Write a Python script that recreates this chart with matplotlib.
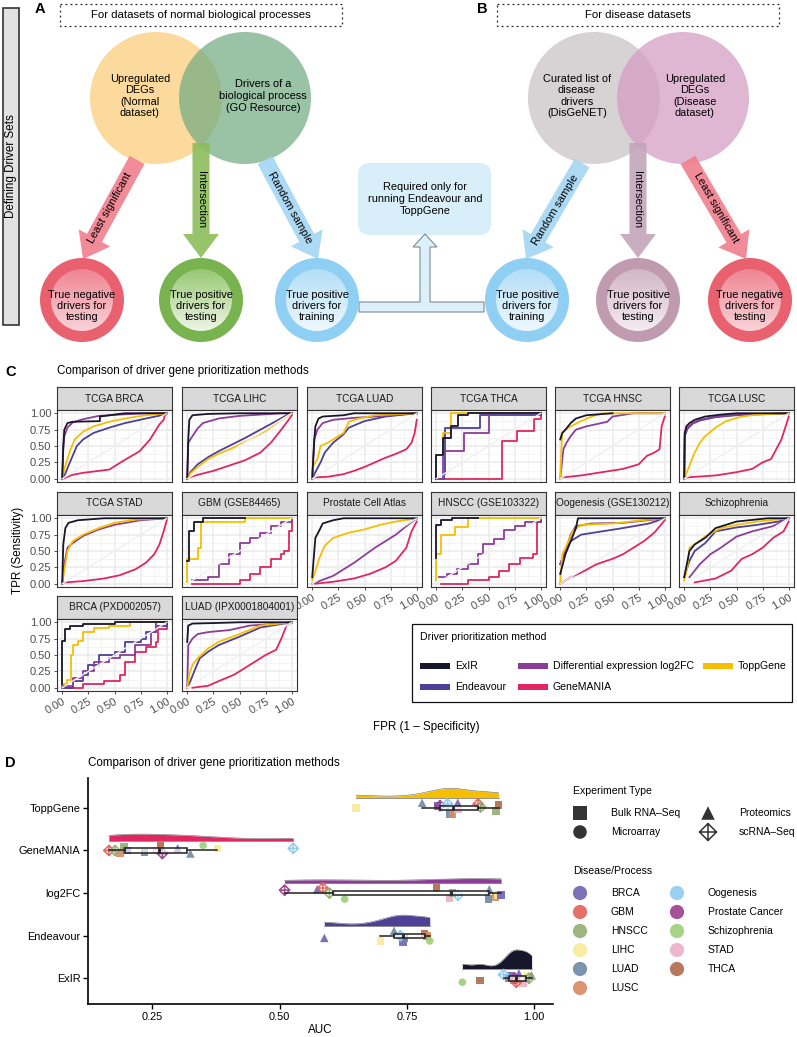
import numpy as np
import matplotlib.pyplot as plt
from matplotlib.patches import Circle, FancyArrow, FancyBboxPatch, Polygon, Rectangle
from matplotlib.colors import LinearSegmentedColormap
from matplotlib.path import Path

plt.rcParams['font.family'] = ['Liberation Sans', 'DejaVu Sans']
plt.rcParams['font.size'] = 8

# ---------------- data: panel C (ROC curves, fpr/tpr points)
facet_titles = ['TCGA BRCA', 'TCGA LIHC', 'TCGA LUAD', 'TCGA THCA', 'TCGA HNSC', 'TCGA LUSC',
                'TCGA STAD', 'GBM (GSE84465)', 'Prostate Cell Atlas', 'HNSCC (GSE103322)',
                'Oogenesis (GSE130212)', 'Schizophrenia',
                'BRCA (PXD002057)', 'LUAD (IPX0001804001)']
step_facets = ['TCGA THCA', 'GBM (GSE84465)', 'HNSCC (GSE103322)', 'BRCA (PXD002057)']

roc_tcga_brca = {
    'GeneMANIA': [(0.02, 0.01), (0.1, 0.06), (0.2, 0.09), (0.3, 0.11), (0.45, 0.14), (0.58, 0.27), (0.74, 0.42),
                  (0.84, 0.6), (0.93, 0.83), (0.97, 0.9), (0.98, 0.96), (1, 1)],
    'Endeavour': [(0, 0), (0.03, 0.08), (0.06, 0.2), (0.1, 0.35), (0.14, 0.5), (0.2, 0.6), (0.3, 0.7),
                  (0.45, 0.78), (0.6, 0.85), (0.8, 0.92), (0.95, 0.97), (1, 1)],
    'ToppGene': [(0, 0), (0.02, 0.15), (0.05, 0.3), (0.08, 0.45), (0.12, 0.6), (0.2, 0.72), (0.3, 0.8),
                 (0.45, 0.87), (0.6, 0.92), (0.8, 0.97), (1, 1)],
    'log2FC': [(0, 0), (0.01, 0.45), (0.02, 0.65), (0.05, 0.78), (0.1, 0.86), (0.2, 0.91), (0.35, 0.96),
               (0.55, 0.98), (0.8, 1.0), (1, 1)],
    'ExIR': [(0, 0), (0.01, 0.5), (0.02, 0.75), (0.05, 0.85), (0.1, 0.87), (0.36, 0.88), (0.36, 0.95),
             (0.5, 0.98), (0.6, 1.0), (1, 1)],
}
roc_tcga_lihc = {
    'GeneMANIA': [(0.02, 0.02), (0.1, 0.06), (0.25, 0.12), (0.4, 0.2), (0.55, 0.28), (0.7, 0.4), (0.8, 0.55),
                  (0.9, 0.75), (0.97, 0.9), (1, 0.97)],
    'Endeavour': [(0, 0), (0.03, 0.1), (0.1, 0.22), (0.2, 0.33), (0.3, 0.42), (0.4, 0.5), (0.55, 0.62),
                  (0.7, 0.75), (0.85, 0.88), (0.95, 0.97), (1, 1)],
    'ToppGene': [(0, 0), (0.03, 0.08), (0.1, 0.18), (0.2, 0.3), (0.3, 0.38), (0.45, 0.48), (0.6, 0.6),
                 (0.75, 0.73), (0.9, 0.9), (1, 1)],
    'log2FC': [(0, 0), (0.01, 0.55), (0.05, 0.65), (0.1, 0.77), (0.15, 0.85), (0.3, 0.92), (0.5, 0.96),
               (0.7, 0.98), (0.9, 1.0), (1, 1)],
    'ExIR': [(0, 0), (0.01, 0.6), (0.02, 0.9), (0.05, 0.97), (0.2, 0.99), (0.5, 1), (1, 1)],
}
roc_tcga_luad = {
    'GeneMANIA': [(0.02, 0.02), (0.15, 0.03), (0.3, 0.07), (0.4, 0.12), (0.5, 0.18), (0.6, 0.25), (0.7, 0.32),
                  (0.8, 0.38), (0.9, 0.45), (0.95, 0.55), (0.98, 0.7), (1, 0.9)],
    'Endeavour': [(0, 0), (0.03, 0.1), (0.08, 0.25), (0.12, 0.4), (0.2, 0.55), (0.3, 0.68), (0.35, 0.78),
                  (0.5, 0.88), (0.7, 0.95), (1, 1)],
    'ToppGene': [(0, 0), (0.01, 0.2), (0.05, 0.3), (0.08, 0.5), (0.15, 0.55), (0.2, 0.6), (0.3, 0.7),
                 (0.35, 0.87), (0.45, 0.92), (0.6, 0.97), (1, 1)],
    'log2FC': [(0, 0.05), (0.02, 0.6), (0.05, 0.75), (0.1, 0.85), (0.2, 0.9), (0.4, 0.93), (0.6, 0.95),
               (0.8, 0.98), (1, 1)],
    'ExIR': [(0, 0), (0.01, 0.3), (0.02, 0.6), (0.03, 0.8), (0.06, 0.92), (0.1, 0.95), (0.3, 0.97),
             (0.4, 1.0), (1, 1)],
}
roc_tcga_thca = {
    'GeneMANIA': [(0, 0), (0.63, 0.58), (0.77, 0.73), (0.935, 0.92), (1.0, 1.0), (1, 1)],
    'Endeavour': [(0, 0), (0.07, 0.07), (0.08, 0.78), (0.42, 0.97), (1, 1)],
    'log2FC': [(0, 0), (0.065, 0.42), (0.27, 0.7), (0.5, 1.0), (1, 1)],
    'ToppGene': [(0, 0), (0, 0.37), (0.065, 0.7), (0.145, 1.0), (1, 1)],
    'ExIR': [(0, 0), (0, 0.37), (0.065, 0.62), (0.14, 0.8), (0.21, 0.97), (0.3, 1.0), (1, 1)],
}
roc_tcga_hnsc = {
    'GeneMANIA': [(0.02, 0.02), (0.2, 0.05), (0.4, 0.1), (0.6, 0.15), (0.75, 0.22), (0.83, 0.35), (0.9, 0.4),
                  (0.95, 0.45), (0.97, 0.8), (1, 0.95)],
    'log2FC': [(0, 0), (0.03, 0.45), (0.06, 0.55), (0.1, 0.65), (0.15, 0.75), (0.25, 0.8), (0.45, 0.87),
               (0.5, 0.95), (0.7, 1.0), (1, 1)],
    'ToppGene': [(0, 0), (0.01, 0.4), (0.02, 0.7), (0.05, 0.75), (0.1, 0.8), (0.2, 0.88), (0.3, 0.95),
                 (0.4, 1.0), (1, 1)],
    'ExIR': [(0, 0.6), (0.02, 0.7), (0.05, 0.75), (0.1, 0.85), (0.15, 0.92), (0.25, 0.97), (0.5, 1.0)],
}
roc_tcga_lusc = {
    'GeneMANIA': [(0.02, 0.02), (0.3, 0.05), (0.5, 0.1), (0.65, 0.15), (0.75, 0.25), (0.83, 0.3), (0.88, 0.45),
                  (0.93, 0.6), (0.97, 0.8), (1, 0.95)],
    'Endeavour': [(0, 0), (0.005, 0.65), (0.03, 0.76), (0.08, 0.84), (0.15, 0.89), (0.3, 0.94), (0.5, 0.97),
                  (1, 1)],
    'ToppGene': [(0, 0), (0.05, 0.2), (0.1, 0.4), (0.15, 0.55), (0.2, 0.65), (0.3, 0.78), (0.4, 0.88),
                 (0.55, 0.95), (0.7, 0.98), (1, 1)],
    'log2FC': [(0, 0.05), (0.005, 0.7), (0.03, 0.78), (0.08, 0.85), (0.15, 0.9), (0.3, 0.95), (0.5, 0.98),
               (1, 1)],
    'ExIR': [(0, 0), (0.005, 0.7), (0.02, 0.8), (0.05, 0.85), (0.1, 0.9), (0.2, 0.95), (0.35, 0.98),
             (0.5, 1.0), (1, 1)],
}
roc_tcga_stad = {
    'GeneMANIA': [(0.02, 0.02), (0.2, 0.04), (0.4, 0.08), (0.55, 0.13), (0.7, 0.22), (0.8, 0.32), (0.88, 0.45),
                  (0.93, 0.6), (0.97, 0.8), (1, 0.97)],
    'log2FC': [(0, 0), (0.02, 0.3), (0.05, 0.55), (0.1, 0.62), (0.2, 0.73), (0.35, 0.83), (0.5, 0.9),
               (0.75, 0.97), (1, 1)],
    'ToppGene': [(0, 0), (0.02, 0.2), (0.05, 0.5), (0.1, 0.65), (0.2, 0.75), (0.35, 0.85), (0.5, 0.93),
                 (0.7, 0.98), (1, 1)],
    'ExIR': [(0, 0), (0.01, 0.6), (0.03, 0.85), (0.06, 0.93), (0.15, 0.97), (0.4, 1.0), (1, 1)],
}
roc_gbm = {
    'GeneMANIA': [(0.05, 0), (0.5, 0.05), (0.6, 0.15), (0.7, 0.25), (0.8, 0.38), (0.9, 0.45), (0.93, 0.5),
                  (0.97, 0.8), (1, 1)],
    'log2FC': [(0.05, 0.05), (0.2, 0.1), (0.3, 0.3), (0.4, 0.45), (0.5, 0.62), (0.6, 0.7), (0.7, 0.78),
               (0.8, 0.88), (0.9, 0.95), (1, 1)],
    'ToppGene': [(0, 0.03), (0, 0.38), (0.1, 0.55), (0.13, 0.95), (0.55, 1.0), (1, 1)],
    'ExIR': [(0, 0.35), (0.02, 0.8), (0.06, 0.95), (0.15, 1.0), (0.55, 1.0)],
}
roc_prostate = {
    'GeneMANIA': [(0.03, 0.0), (0.2, 0.03), (0.4, 0.08), (0.55, 0.15), (0.7, 0.25), (0.8, 0.35), (0.9, 0.55),
                  (0.95, 0.8), (1, 0.95)],
    'log2FC': [(0, 0), (0.2, 0.12), (0.4, 0.32), (0.6, 0.55), (0.8, 0.75), (0.9, 0.88), (1, 1)],
    'ToppGene': [(0, 0.05), (0.03, 0.2), (0.07, 0.4), (0.12, 0.58), (0.2, 0.7), (0.35, 0.78), (0.5, 0.83),
                 (0.65, 0.9), (0.8, 0.95), (1, 1)],
    'ExIR': [(0, 0.1), (0.02, 0.5), (0.03, 0.7), (0.07, 0.82), (0.1, 0.92), (0.2, 0.97), (0.3, 1.0), (1, 1)],
}
roc_hnscc_sc = {
    'GeneMANIA': [(0.05, 0), (0.3, 0.05), (0.5, 0.1), (0.6, 0.2), (0.7, 0.3), (0.8, 0.4), (0.93, 0.45),
                  (0.96, 0.95), (1, 1)],
    'log2FC': [(0.03, 0.1), (0.1, 0.15), (0.2, 0.22), (0.3, 0.3), (0.4, 0.45), (0.45, 0.6), (0.55, 0.68),
               (0.65, 0.82), (0.75, 0.88), (0.85, 0.95), (1, 1)],
    'ToppGene': [(0, 0.05), (0, 0.45), (0.05, 0.75), (0.18, 0.87), (0.3, 1.0), (1, 1)],
    'ExIR': [(0, 0.4), (0, 0.9), (0.05, 0.97), (0.15, 1.0), (0.4, 1.0)],
}
roc_oogenesis = {
    'GeneMANIA': [(0, 0), (0.1, 0.1), (0.2, 0.17), (0.35, 0.3), (0.5, 0.38), (0.6, 0.45), (0.7, 0.55),
                  (0.8, 0.65), (0.9, 0.78), (1, 0.97)],
    'Endeavour': [(0, 0.3), (0.05, 0.5), (0.1, 0.65), (0.2, 0.75), (0.4, 0.8), (0.6, 0.85), (0.85, 0.92), (1, 1)],
    'log2FC': [(0, 0.3), (0.05, 0.5), (0.1, 0.75), (0.15, 0.88), (0.3, 0.92), (0.6, 0.93), (0.9, 0.98), (1, 1)],
    'ToppGene': [(0, 0), (0.02, 0.45), (0.05, 0.55), (0.08, 0.65), (0.12, 0.8), (0.2, 0.9), (0.5, 0.92),
                 (0.85, 0.98), (1, 1)],
    'ExIR': [(0, 0.15), (0.05, 0.45), (0.1, 0.65), (0.15, 0.85), (0.17, 1.0), (1, 1)],
}
roc_schizophrenia = {
    'GeneMANIA': [(0.1, 0.02), (0.3, 0.08), (0.45, 0.2), (0.55, 0.38), (0.65, 0.45), (0.75, 0.55), (0.85, 0.7),
                  (0.95, 0.8), (1, 0.95)],
    'log2FC': [(0.05, 0.1), (0.1, 0.2), (0.15, 0.3), (0.25, 0.45), (0.35, 0.55), (0.5, 0.72), (0.65, 0.8),
               (0.85, 0.88), (1, 1)],
    'Endeavour': [(0, 0.1), (0.05, 0.35), (0.1, 0.5), (0.2, 0.62), (0.3, 0.8), (0.5, 0.86), (0.7, 0.9),
                  (0.9, 0.95), (1, 1)],
    'ToppGene': [(0, 0.05), (0.03, 0.25), (0.05, 0.55), (0.1, 0.6), (0.2, 0.72), (0.35, 0.85), (0.5, 0.9),
                 (0.7, 0.95), (1, 1)],
    'ExIR': [(0, 0.1), (0.05, 0.5), (0.1, 0.6), (0.2, 0.7), (0.3, 0.85), (0.5, 0.95), (0.8, 1.0), (1, 1)],
}
roc_brca_prot = {
    'GeneMANIA': [(0.05, 0), (0.2, 0.05), (0.4, 0.1), (0.55, 0.2), (0.6, 0.4), (0.7, 0.55), (0.8, 0.62),
                  (0.9, 0.7), (0.92, 0.9), (1, 1)],
    'Endeavour': [(0, 0), (0.1, 0.1), (0.2, 0.2), (0.25, 0.35), (0.35, 0.5), (0.5, 0.55), (0.6, 0.7),
                  (0.75, 0.75), (0.8, 0.85), (0.9, 0.95), (1, 1)],
    'log2FC': [(0, 0.02), (0.1, 0.15), (0.2, 0.25), (0.3, 0.4), (0.45, 0.45), (0.55, 0.5), (0.7, 0.65),
               (0.85, 0.85), (0.9, 1.0), (1, 1)],
    'ToppGene': [(0, 0.05), (0.05, 0.12), (0.08, 0.5), (0.1, 0.65), (0.15, 0.72), (0.2, 0.85), (0.3, 0.92),
                 (0.45, 0.95), (0.65, 1.0), (1, 1)],
    'ExIR': [(0, 0.05), (0, 0.72), (0.03, 0.9), (0.07, 0.95), (0.2, 0.97), (0.5, 1.0), (1, 1)],
}
roc_luad_prot = {
    'GeneMANIA': [(0.05, 0), (0.2, 0.03), (0.3, 0.1), (0.45, 0.2), (0.55, 0.3), (0.65, 0.4), (0.75, 0.5),
                  (0.85, 0.58), (0.9, 0.75), (0.95, 0.95), (1, 1)],
    'Endeavour': [(0, 0), (0.03, 0.1), (0.08, 0.3), (0.12, 0.45), (0.2, 0.55), (0.3, 0.65), (0.5, 0.78),
                  (0.7, 0.92), (1, 1)],
    'ToppGene': [(0, 0), (0.02, 0.2), (0.05, 0.35), (0.1, 0.45), (0.2, 0.6), (0.3, 0.7), (0.5, 0.82),
                 (0.7, 0.95), (1, 1)],
    'log2FC': [(0, 0.0), (0.01, 0.65), (0.05, 0.75), (0.1, 0.82), (0.2, 0.85), (0.4, 0.88), (0.6, 0.95),
               (0.8, 0.97), (1, 1)],
    'ExIR': [(0, 0.7), (0.01, 0.95), (0.05, 0.98), (0.3, 0.99), (0.5, 1.0), (1, 1)],
}
facet_curves = [roc_tcga_brca, roc_tcga_lihc, roc_tcga_luad, roc_tcga_thca, roc_tcga_hnsc, roc_tcga_lusc,
                roc_tcga_stad, roc_gbm, roc_prostate, roc_hnscc_sc, roc_oogenesis, roc_schizophrenia,
                roc_brca_prot, roc_luad_prot]

method_colors = {'ExIR': '#17162b', 'Endeavour': '#4e3f98', 'log2FC': '#8b3d98',
                 'GeneMANIA': '#e2265f', 'ToppGene': '#f5bf00'}
draw_order = ['GeneMANIA', 'Endeavour', 'log2FC', 'ToppGene', 'ExIR']

# ---------------- data: panel D (AUC per dataset)
d_methods = ['ExIR', 'Endeavour', 'log2FC', 'GeneMANIA', 'ToppGene']

auc_exir = [0.859, 0.894, 0.94, 0.95, 0.955, 0.96, 0.962, 0.965, 0.97, 0.978, 0.985, 0.988, 0.99, 0.995]
dis_exir = ['Schizophrenia', 'THCA', 'Oogenesis', 'LUAD', 'BRCA', 'LUSC', 'Prostate Cancer', 'GBM', 'BRCA',
            'STAD', 'HNSCC', 'LIHC', 'HNSCC', 'LUAD']
exp_exir = ['Microarray', 'Bulk', 'sc', 'Bulk', 'Bulk', 'Bulk', 'sc', 'sc', 'Proteomics', 'Bulk', 'Bulk',
            'Bulk', 'sc', 'Proteomics']
jit_exir = [-0.09, -0.05, 0.09, 0.0, 0.05, -0.05, 0.0, -0.09, 0.12, -0.12, 0.0, 0.05, 0.0, 0.07]

auc_endeavour = [0.588, 0.698, 0.725, 0.737, 0.743, 0.745, 0.785, 0.79, 0.795]
dis_endeavour = ['BRCA', 'LIHC', 'LUAD', 'Oogenesis', 'BRCA', 'LUAD', 'THCA', 'LUSC', 'Schizophrenia']
exp_endeavour = ['Proteomics', 'Bulk', 'Proteomics', 'sc', 'Bulk', 'Bulk', 'Bulk', 'Bulk', 'Microarray']
jit_endeavour = [-0.05, -0.12, 0.12, 0.0, -0.14, -0.05, 0.05, 0.0, -0.12]

auc_log2fc = [0.51, 0.574, 0.585, 0.598, 0.628, 0.808, 0.834, 0.84, 0.85, 0.91, 0.912, 0.924, 0.928, 0.935]
dis_log2fc = ['Prostate Cancer', 'BRCA', 'GBM', 'HNSCC', 'Schizophrenia', 'THCA', 'STAD', 'HNSCC', 'Oogenesis',
              'LUAD', 'LUAD', 'LUSC', 'LIHC', 'BRCA']
exp_log2fc = ['sc', 'Proteomics', 'sc', 'sc', 'Microarray', 'Bulk', 'Bulk', 'Bulk', 'sc', 'Bulk',
              'Proteomics', 'Bulk', 'Bulk', 'Bulk']
jit_log2fc = [0.07, 0.09, 0.12, 0.0, -0.14, 0.12, -0.12, 0.0, -0.05, -0.14, 0.09, -0.09, -0.05, -0.05]

auc_genemania = [0.165, 0.177, 0.187, 0.195, 0.2, 0.235, 0.26, 0.266, 0.27, 0.30, 0.325, 0.35, 0.378, 0.527]
dis_genemania = ['GBM', 'HNSCC', 'LUSC', 'HNSCC', 'BRCA', 'LUAD', 'STAD', 'THCA', 'Prostate Cancer', 'BRCA',
                 'LUAD', 'Schizophrenia', 'LIHC', 'Oogenesis']
exp_genemania = ['sc', 'sc', 'Bulk', 'Bulk', 'Bulk', 'Bulk', 'Bulk', 'Bulk', 'sc', 'Proteomics',
                 'Proteomics', 'Microarray', 'Bulk', 'sc']
jit_genemania = [0.0, 0.0, -0.07, 0.09, 0.0, -0.05, 0.0, 0.12, -0.07, 0.05, -0.07, 0.12, 0.05, 0.05]

auc_toppgene = [0.65, 0.78, 0.81, 0.815, 0.83, 0.835, 0.84, 0.85, 0.85, 0.89, 0.895, 0.925, 0.93]
dis_toppgene = ['LIHC', 'LUAD', 'BRCA', 'Prostate Cancer', 'Oogenesis', 'LUAD', 'LUSC', 'STAD', 'BRCA', 'GBM',
                'HNSCC', 'HNSCC', 'THCA']
exp_toppgene = ['Bulk', 'Proteomics', 'Bulk', 'sc', 'sc', 'Bulk', 'Bulk', 'Bulk', 'Proteomics', 'sc', 'sc',
                'Bulk', 'Bulk']
jit_toppgene = [0.0, 0.12, 0.05, 0.05, 0.09, -0.14, -0.14, -0.02, 0.12, 0.09, 0.02, -0.07, 0.07]

diseases = ['BRCA', 'GBM', 'HNSCC', 'LIHC', 'LUAD', 'LUSC', 'Oogenesis', 'Prostate Cancer', 'Schizophrenia',
            'STAD', 'THCA']
disease_colors = ['#6f62b3', '#e2625a', '#93ad72', '#f7ea96', '#6e88a3', '#d88a63', '#8ecaf0', '#9b3f8d',
                  '#9ccf7a', '#eab0c8', '#b0694a']
exp_types = ['Bulk', 'Microarray', 'Proteomics', 'sc']
exp_labels = ['Bulk RNA\u2013Seq', 'Microarray', 'Proteomics', 'scRNA\u2013Seq']

# diamond with a cross inside (open)
dplus = Path([(0, 1), (1, 0), (0, -1), (-1, 0), (0, 1), (0, -1), (-1, 0), (1, 0)],
             [Path.MOVETO, Path.LINETO, Path.LINETO, Path.LINETO, Path.CLOSEPOLY,
              Path.LINETO, Path.MOVETO, Path.LINETO])
exp_markers = {'Bulk': 's', 'Microarray': 'o', 'Proteomics': '^', 'sc': dplus}

# ---------------- figure
W, H = 797, 1037
fig = plt.figure(figsize=(W / 100, H / 100), dpi=100)


def px_axes(x0, y0, x1, y1):
    return fig.add_axes([x0 / W, 1 - y1 / H, (x1 - x0) / W, (y1 - y0) / H])


ov = px_axes(0, 0, W, H)
ov.axis('off')
fs = 7.9  # body text in the schematic

# ---- panels A and B (schematic)
ov.add_patch(Rectangle((3, 8), 16, 317, fc='#e2e2e2', ec='#333333', lw=1.2))
ov.text(11, 166, 'Defining Driver Sets', rotation=90, ha='center', va='center', fontsize=8.4)
ov.text(40, 9, 'A', fontsize=10.5, fontweight='bold', ha='center', va='center')
ov.text(482, 9, 'B', fontsize=10.5, fontweight='bold', ha='center', va='center')
for x0, x1, lab in [(60, 342, 'For datasets of normal biological processes'), (497, 779, 'For disease datasets')]:
    ov.add_patch(Rectangle((x0, 4), x1 - x0, 22, fc='none', ec='#222222', lw=0.9, ls=(0, (1.5, 2.5))))
    ov.text((x0 + x1) / 2, 15, lab, ha='center', va='center', fontsize=8.2)

for cx, col in [(156, '#fbcc78'), (245, '#73ab82'), (594, '#c8c1c2'), (683, '#d39bc3')]:
    ov.add_patch(Circle((cx, 98), 66, fc=col, ec='none', alpha=0.72, zorder=1))
ov.text(140, 96, 'Upregulated\nDEGs\n(Normal\ndataset)', ha='center', va='center', fontsize=fs, zorder=6)
ov.text(263, 96, 'Drivers of a\nbiological process\n(GO Resource)', ha='center', va='center', fontsize=fs, zorder=6)
ov.text(577, 96, 'Curated list of\ndisease\ndrivers\n(DisGeNET)', ha='center', va='center', fontsize=fs, zorder=6)
ov.text(695, 96, 'Upregulated\nDEGs\n(Disease\ndataset)', ha='center', va='center', fontsize=fs, zorder=6)

arrows = [((137, 160), (83, 259), '#f07f8c', 'Least significant', (110, 208), 61),
          ((201, 143), (201, 258), '#8cbd5a', 'Intersection', (201, 200), -90),
          ((265, 160), (318, 259), '#a3d5f3', 'Random sample', (290, 208), -61),
          ((582, 163), (526, 259), '#a3d5f3', 'Random sample', (555, 210), 59),
          ((638, 143), (638, 258), '#c3a4bb', 'Intersection', (637, 200), -90),
          ((688, 160), (746, 259), '#f07f8c', 'Least significant', (716, 208), -60)]
for (x0, y0), (x1, y1), col, lab, (tx, ty), rot in arrows:
    ov.add_patch(FancyArrow(x0, y0, x1 - x0, y1 - y0, width=17, head_width=36, head_length=24,
                            length_includes_head=True, fc=col, ec='none', alpha=0.9, zorder=2))
    ov.text(tx, ty, lab, rotation=rot, ha='center', va='center', fontsize=fs, zorder=6)

rings = [(82, '#e9606f', '#ef8593', '#f9d3d8', 'True negative\ndrivers for\ntesting'),
         (201, '#78b34f', '#97c873', '#eef5e6', 'True positive\ndrivers for\ntesting'),
         (317, '#8ecff3', '#b3def7', '#eef8fd', 'True positive\ndrivers for\ntraining'),
         (527, '#8ecff3', '#b3def7', '#eef8fd', 'True positive\ndrivers for\ntraining'),
         (638, '#c09aae', '#d3b6c6', '#f4ecf1', 'True positive\ndrivers for\ntesting'),
         (750, '#e9606f', '#ef8593', '#f9d3d8', 'True negative\ndrivers for\ntesting')]
grad = np.linspace(0, 1, 64)[:, None]
for cx, ring, top, bot, lab in rings:
    ov.add_patch(Circle((cx, 300), 42, fc=ring, ec='none', zorder=3))
    inner = Circle((cx, 300), 31, transform=ov.transData)
    im = ov.imshow(grad, cmap=LinearSegmentedColormap.from_list('g', [top, bot]),
                   extent=(cx - 31, cx + 31, 331, 269), aspect='auto', zorder=3.5, interpolation='bilinear')
    im.set_clip_path(inner)
    ov.text(cx, 306, lab, ha='center', va='center', fontsize=fs, zorder=6, linespacing=1.1)

ov.add_patch(FancyBboxPatch((358, 163), 133, 72, boxstyle='round,pad=0,rounding_size=12',
                            fc='#d8eef9', ec='none', zorder=1))
ov.text(425, 199, 'Required only for\nrunning Endeavour and\nToppGene', ha='center', va='center',
        fontsize=fs, zorder=6)
ov.add_patch(Polygon([(359, 312), (484, 312), (484, 302), (430, 302), (430, 247), (437, 247), (425, 234),
                      (413, 247), (420, 247), (420, 302), (359, 302)], closed=True,
                     fc='#dcf0fa', ec='#7d8b94', lw=0.8, zorder=2))

# ---- panel C headers / legend
ov.text(5, 372, 'C', fontsize=10.5, fontweight='bold', va='center')
ov.text(57, 371, 'Comparison of driver gene prioritization methods', fontsize=8.4, va='center')
ov.text(18, 550, 'TPR (Sensitivity)', rotation=90, ha='center', va='center', fontsize=8.4)
ov.text(426, 727, 'FPR (1 \u2013 Specificity)', ha='center', va='center', fontsize=8.4)
ov.add_patch(Rectangle((412, 624), 380, 78, fc='white', ec='#111111', lw=0.9))
ov.text(420, 637, 'Driver prioritization method', fontsize=7.6, va='center')
leg_items = [('ExIR', 420, 666), ('log2FC', 518, 666), ('ToppGene', 703, 666),
             ('Endeavour', 420, 687), ('GeneMANIA', 518, 687)]
leg_names = {'ExIR': 'ExIR', 'log2FC': 'Differential expression log2FC', 'ToppGene': 'ToppGene',
             'Endeavour': 'Endeavour', 'GeneMANIA': 'GeneMANIA'}
for m, lx, ly in leg_items:
    ov.add_patch(Rectangle((lx, ly - 3), 30, 6, fc=method_colors[m], ec='none'))
    ov.text(lx + 35, ly, leg_names[m], fontsize=7.6, va='center')

# ---- panel D headers / legends
ov.text(5, 763, 'D', fontsize=10.5, fontweight='bold', va='center')
ov.text(88, 763, 'Comparison of driver gene prioritization methods', fontsize=8.4, va='center')
ov.text(573, 791, 'Experiment Type', fontsize=7.6, va='center')
for (mx, my), e, lab in zip([(580, 813), (580, 832), (708, 813), (708, 832)], exp_types, exp_labels):
    ov.scatter([mx], [my], marker=exp_markers[e], s=95 if e != 'sc' else 150,
               c='#333333' if e != 'sc' else 'none', edgecolors='#333333' if e == 'sc' else 'none', lw=1.1)
    ov.text(mx + 31, my, lab, fontsize=7.5, va='center')
ov.text(573, 871, 'Disease/Process', fontsize=7.6, va='center')
for i, (d, col) in enumerate(zip(diseases, disease_colors)):
    cx, cy = (580, 893 + 19 * i) if i < 6 else (677, 893 + 19 * (i - 6))
    ov.scatter([cx], [cy], s=105, c=col, alpha=0.9, edgecolors='none')
    ov.text(cx + 31, cy, d, fontsize=7.5, va='center')

ov.set_xlim(0, W)
ov.set_ylim(H, 0)

# ---- panel C facets
col_x = [57, 182, 307, 431, 555, 679]
row_y = [387, 492, 596]
ticks = [0, 0.25, 0.5, 0.75, 1.0]
tick_labels = ['0.00', '0.25', '0.50', '0.75', '1.00']
for i, (title, curves) in enumerate(zip(facet_titles, facet_curves)):
    r, c = divmod(i, 6)
    x0, y0 = col_x[c], row_y[r]
    sax = px_axes(x0, y0, x0 + 115, y0 + 23)
    sax.set_facecolor('#d9d9d9')
    sax.set_xticks([])
    sax.set_yticks([])
    for s in sax.spines.values():
        s.set_color('#333333')
        s.set_linewidth(0.8)
    sax.text(0.5, 0.5, title, transform=sax.transAxes, ha='center', va='center', fontsize=7.3, color='#1a1a1a')

    ax = px_axes(x0, y0 + 23, x0 + 115, y0 + 95)
    ax.set_xlim(-0.05, 1.05)
    ax.set_ylim(-0.05, 1.05)
    ax.set_xticks(ticks)
    ax.set_yticks(ticks)
    ax.set_xticks([0.125, 0.375, 0.625, 0.875], minor=True)
    ax.set_yticks([0.125, 0.375, 0.625, 0.875], minor=True)
    ax.grid(True, which='major', color='#ebebeb', lw=1.1, zorder=0)
    ax.grid(True, which='minor', color='#f2f2f2', lw=0.6, zorder=0)
    ax.set_axisbelow(True)
    for m in draw_order:
        if m not in curves:
            continue
        xs = [p[0] for p in curves[m]]
        ys = [p[1] for p in curves[m]]
        ax.plot(xs, ys, color=method_colors[m], lw=1.3,
                drawstyle='steps-post' if title in step_facets else 'default', zorder=3)
    ax.plot([0, 1], [0, 1], color='#f0f0f0', lw=1.0, zorder=4)
    for s in ax.spines.values():
        s.set_color('#333333')
        s.set_linewidth(0.8)
    ax.tick_params(which='minor', length=0)
    ax.tick_params(which='major', length=2.5, width=0.6, color='#333333', labelsize=8, labelcolor='#4d4d4d', pad=1.5)
    if c == 0:
        ax.set_yticklabels(tick_labels)
    else:
        ax.tick_params(axis='y', length=0, labelleft=False)
    if (r == 1 and c >= 2) or r == 2:
        ax.set_xticklabels(tick_labels, rotation=30, ha='right', rotation_mode='anchor')
    else:
        ax.tick_params(axis='x', length=0, labelbottom=False)

# ---- panel D
dax = px_axes(88, 778, 553, 1004)
auc_lists = [auc_exir, auc_endeavour, auc_log2fc, auc_genemania, auc_toppgene]
dis_lists = [dis_exir, dis_endeavour, dis_log2fc, dis_genemania, dis_toppgene]
exp_lists = [exp_exir, exp_endeavour, exp_log2fc, exp_genemania, exp_toppgene]
jit_lists = [jit_exir, jit_endeavour, jit_log2fc, jit_genemania, jit_toppgene]
dcol = dict(zip(diseases, disease_colors))


def kde(vals, n=200):
    v = np.asarray(vals)
    sd = v.std(ddof=1)
    q75, q25 = np.percentile(v, [75, 25])
    bw = 0.9 * min(sd, (q75 - q25) / 1.34) * len(v) ** -0.2
    xs = np.linspace(v.min(), v.max(), n)
    dens = np.exp(-0.5 * ((xs[:, None] - v[None, :]) / bw) ** 2).sum(1) / (len(v) * bw * np.sqrt(2 * np.pi))
    return xs, dens


dens_all = [kde(a) for a in auc_lists]
dmax = max(d.max() for _, d in dens_all)
for k, m in enumerate(d_methods):
    y = k + 1
    xs, dens = dens_all[k]
    base = y + 0.23
    top = base + 0.04 + dens / dmax * 0.40
    dax.fill_between(xs, base, top, color=method_colors[m], lw=0, zorder=2)
    dax.plot(xs, top, color='#666666', lw=0.4, zorder=2)
    dax.plot(xs, np.full_like(xs, base), color='#888888', lw=0.6, zorder=2)
    auc = np.array(auc_lists[k])
    yy = y + np.array(jit_lists[k])
    for e in exp_types:
        sel = [j for j, ee in enumerate(exp_lists[k]) if ee == e]
        if not sel:
            continue
        cols = [dcol[dis_lists[k][j]] for j in sel]
        if e == 'sc':
            dax.scatter(auc[sel], yy[sel], marker=dplus, s=55, facecolors='none', edgecolors=cols,
                        lw=1.1, alpha=0.95, zorder=3)
        else:
            dax.scatter(auc[sel], yy[sel], marker=exp_markers[e], s=38 if e == 'Proteomics' else 30,
                        c=cols, edgecolors='none', alpha=0.9, zorder=3)
    dax.boxplot([auc], positions=[y], orientation='horizontal', widths=0.1, showfliers=False, showcaps=False,
                patch_artist=True, manage_ticks=False,
                boxprops=dict(facecolor=(1, 1, 1, 0.65), edgecolor='#222222', lw=1.1),
                medianprops=dict(color='#222222', lw=2),
                whiskerprops=dict(color='#222222', lw=1.1), zorder=4)

dax.set_xlim(0.124, 1.037)
dax.set_ylim(0.4, 5.7)
dax.set_yticks(range(1, 6))
dax.set_yticklabels(d_methods)
dax.set_xticks([0.25, 0.5, 0.75, 1.0])
dax.set_xticklabels(['0.25', '0.50', '0.75', '1.00'])
dax.set_xlabel('AUC', fontsize=8.4, labelpad=2)
for s in ['top', 'right']:
    dax.spines[s].set_visible(False)
for s in ['left', 'bottom']:
    dax.spines[s].set_linewidth(1.2)
dax.tick_params(length=3.5, width=1.0, labelsize=7.9, pad=2)

fig.savefig('out.png', dpi=100)
